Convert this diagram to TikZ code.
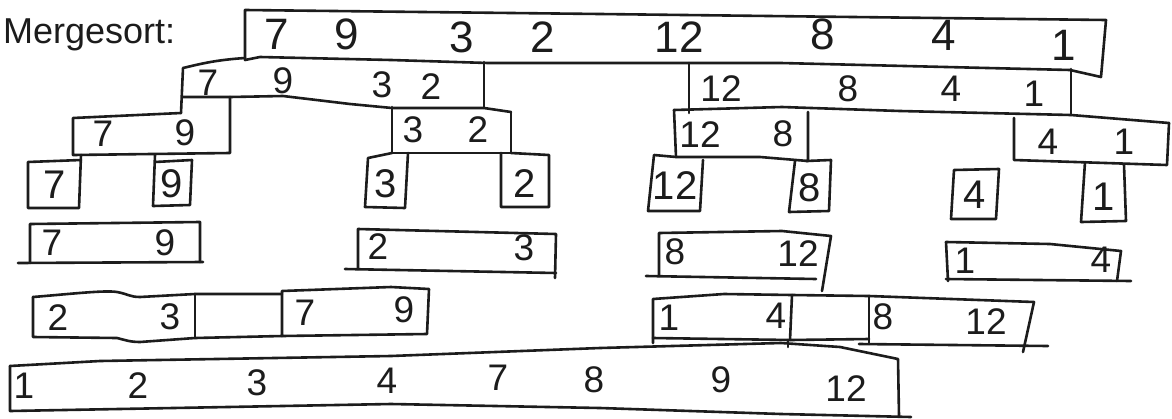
\documentclass[tikz,border=0pt]{standalone}
\usepackage{fontspec}
\setmainfont{Liberation Sans}
\definecolor{inkc}{HTML}{1C1C1C}
\begin{document}
\begin{tikzpicture}[x=1pt,y=-1pt,
  ink/.style={draw=inkc, line width=2.6pt, line join=round, line cap=round},
  dg/.style={text=inkc, inner sep=0pt, font=\fontsize{37}{37}\selectfont},
  dgl/.style={text=inkc, inner sep=0pt, font=\fontsize{40}{40}\selectfont},
  dgb/.style={text=inkc, inner sep=0pt, font=\fontsize{44}{44}\selectfont},
  title/.style={text=inkc, inner sep=0pt, anchor=base west, font=\fontsize{36}{36}\selectfont}]
\useasboundingbox (0,0) rectangle (1172,418);
\fill[white] (0,0) rectangle (1172,418);

% title
\node[title] (ttl) at (3,43) {Mergesort:};

% ---------- level 0 ----------
\draw[ink] (245,10) -- (600,14) -- (1106,20) -- (1101,77) -- (1070,70) -- (781,63) -- (488,63) -- (391,60) -- (260,57) -- (245,60) -- cycle;
\node[dgb] (a1) at (277,34) {7};
\node[dgb] (a2) at (347,34) {9};
\node[dgb] (a3) at (462,37) {3};
\node[dgb] (a4) at (543,37) {2};
\node[dgb] (a5) at (679,37) {12};
\node[dgb] (a6) at (823,34) {8};
\node[dgb] (a7) at (944,35) {4};
\node[dgb] (a8) at (1064,45) {1};

% ---------- level 1 ----------
\draw[ink] (245,58) .. controls (215,60) and (200,64) .. (183,68) -- (181,113);
\draw[ink] (484,62) -- (484,108);
\draw[ink] (183,97) -- (230,97) -- (283,96) -- (350,104) -- (392,108) -- (484,108) -- (511,112);
\draw[ink] (689,63) -- (689,113);
\draw[ink] (1071,69) -- (1071,115);
\draw[ink] (674,110) -- (782,107) -- (900,111) -- (1071,115) -- (1169,123);
\node[dg] (b1) at (208,83) {7};
\node[dg] (b2) at (283,81) {9};
\node[dg] (b3) at (382,85) {3};
\node[dg] (b4) at (431,87) {2};
\node[dg] (b5) at (721,89) {12};
\node[dg] (b6) at (848,89) {8};
\node[dg] (b7) at (951,89) {4};
\node[dg] (b8) at (1034,94) {1};

% ---------- level 2 ----------
\draw[ink] (181,113) -- (73,118) -- (73,155) -- (230,153) -- (230,97);
\draw[ink] (392,107) -- (392,153) -- (511,153) -- (511,112);
\draw[ink] (674,110) -- (676,157) -- (760,157) -- (808,161) -- (808,112);
\draw[ink] (1014,118) -- (1014,160) -- (1167,165) -- (1169,123);
\node[dg] (c1) at (103,134) {7};
\node[dg] (c2) at (185,133) {9};
\node[dg] (c3) at (413,130) {3};
\node[dg] (c4) at (478,130) {2};
\node[dg] (c5) at (700,135) {12};
\node[dg] (c6) at (783,134) {8};
\node[dg] (c7) at (1048,142) {4};
\node[dg] (c8) at (1124,142) {1};

% ---------- level 3 ----------
\draw[ink] (81,155) -- (79,208) -- (28,208) -- (28,162) -- (81,160);
\draw[ink] (155,155) -- (153,206) -- (190,205) -- (192,160) -- (155,162);
\draw[ink] (392,153) -- (368,158) -- (365,207) -- (405,208) -- (408,153);
\draw[ink] (501,153) -- (501,207) -- (549,207) -- (549,155) -- (511,153);
\draw[ink] (676,157) -- (654,155) -- (648,211) -- (700,211) -- (703,160);
\draw[ink] (795,161) -- (789,212) -- (829,211) -- (831,160) -- (806,161);
\draw[ink] (954,170) -- (999,169) -- (996,219) -- (951,219) -- cycle;
\draw[ink] (1085,162) -- (1081,222) -- (1126,221) -- (1124,165);
\node[dgl] (d1) at (55,185) {7};
\node[dgl] (d2) at (172,184) {9};
\node[dgl] (d3) at (386,184) {3};
\node[dgl] (d4) at (525,184) {2};
\node[dgl] (d5) at (675,186) {12};
\node[dgl] (d6) at (810,188) {8};
\node[dgl] (d7) at (975,195) {4};
\node[dgl] (d8) at (1104,197) {1};

% ---------- level 4 ----------
\draw[ink] (30,263) -- (30,224) -- (200,222) -- (200,262);
\draw[ink] (18,263) -- (203,262);
\draw[ink] (358,269) -- (358,229) -- (556,234) -- (555,278);
\draw[ink] (345,269) -- (556,273);
\draw[ink] (659,276) -- (659,233) -- (782,231) -- (831,236) -- (822,291);
\draw[ink] (646,276) -- (816,279);
\draw[ink] (948,281) -- (946,242) -- (1050,244) -- (1121,251) -- (1117,281);
\draw[ink] (946,279) -- (1131,281);
\node[dg] (e1) at (52,243) {7};
\node[dg] (e2) at (165,243) {9};
\node[dg] (e3) at (378,247) {2};
\node[dg] (e4) at (524,248) {3};
\node[dg] (e5) at (675,252) {8};
\node[dg] (e6) at (798,254) {12};
\node[dg] (e7) at (965,261) {1};
\node[dg] (e8) at (1101,260) {4};

% ---------- level 5 ----------
\draw[ink] (33,297) .. controls (70,294) and (105,290) .. (117,292) .. controls (128,294) and (130,297) .. (140,297) -- (195,294) -- (282,294);
\draw[ink] (33,297) -- (33,337) -- (117,338) .. controls (125,340) and (130,342) .. (140,342) -- (195,338) -- (282,336);
\draw[ink] (195,294) -- (195,338);
\draw[ink] (282,291) -- (391,287) -- (429,289) -- (427,334) -- (282,336) -- cycle;
\draw[ink] (653,343) -- (653,299) -- (724,294) -- (792,295) -- (869,296) -- (1034,302) -- (1023,352);
\draw[ink] (653,338) -- (790,340) -- (869,339);
\draw[ink] (792,295) -- (790,340);
\draw[ink] (869,296) -- (869,344);
\draw[ink] (859,344) -- (1048,346);
\draw[ink] (788,340) -- (788,347);
\node[dg] (f1) at (58,318) {2};
\node[dg] (f2) at (170,317) {3};
\node[dg] (f3) at (305,313) {7};
\node[dg] (f4) at (404,310) {9};
\node[dg] (f5) at (669,318) {1};
\node[dg] (f6) at (776,316) {4};
\node[dg] (f7) at (883,317) {8};
\node[dg] (f8) at (986,322) {12};

% ---------- level 6 ----------
\draw[ink] (10,366) -- (100,361) -- (391,356) -- (600,348) -- (781,343) -- (840,347) -- (898,359) -- (899,416);
\draw[ink] (10,366) -- (10,411) -- (391,404) -- (600,408) -- (781,414) -- (911,417);
\node[dg] (g1) at (24,386) {1};
\node[dg] (g2) at (138,386) {2};
\node[dg] (g3) at (257,383) {3};
\node[dg] (g4) at (387,381) {4};
\node[dg] (g5) at (498,378) {7};
\node[dg] (g6) at (594,380) {8};
\node[dg] (g7) at (721,380) {9};
\node[dg] (g8) at (846,389) {12};
\end{tikzpicture}
\end{document}
